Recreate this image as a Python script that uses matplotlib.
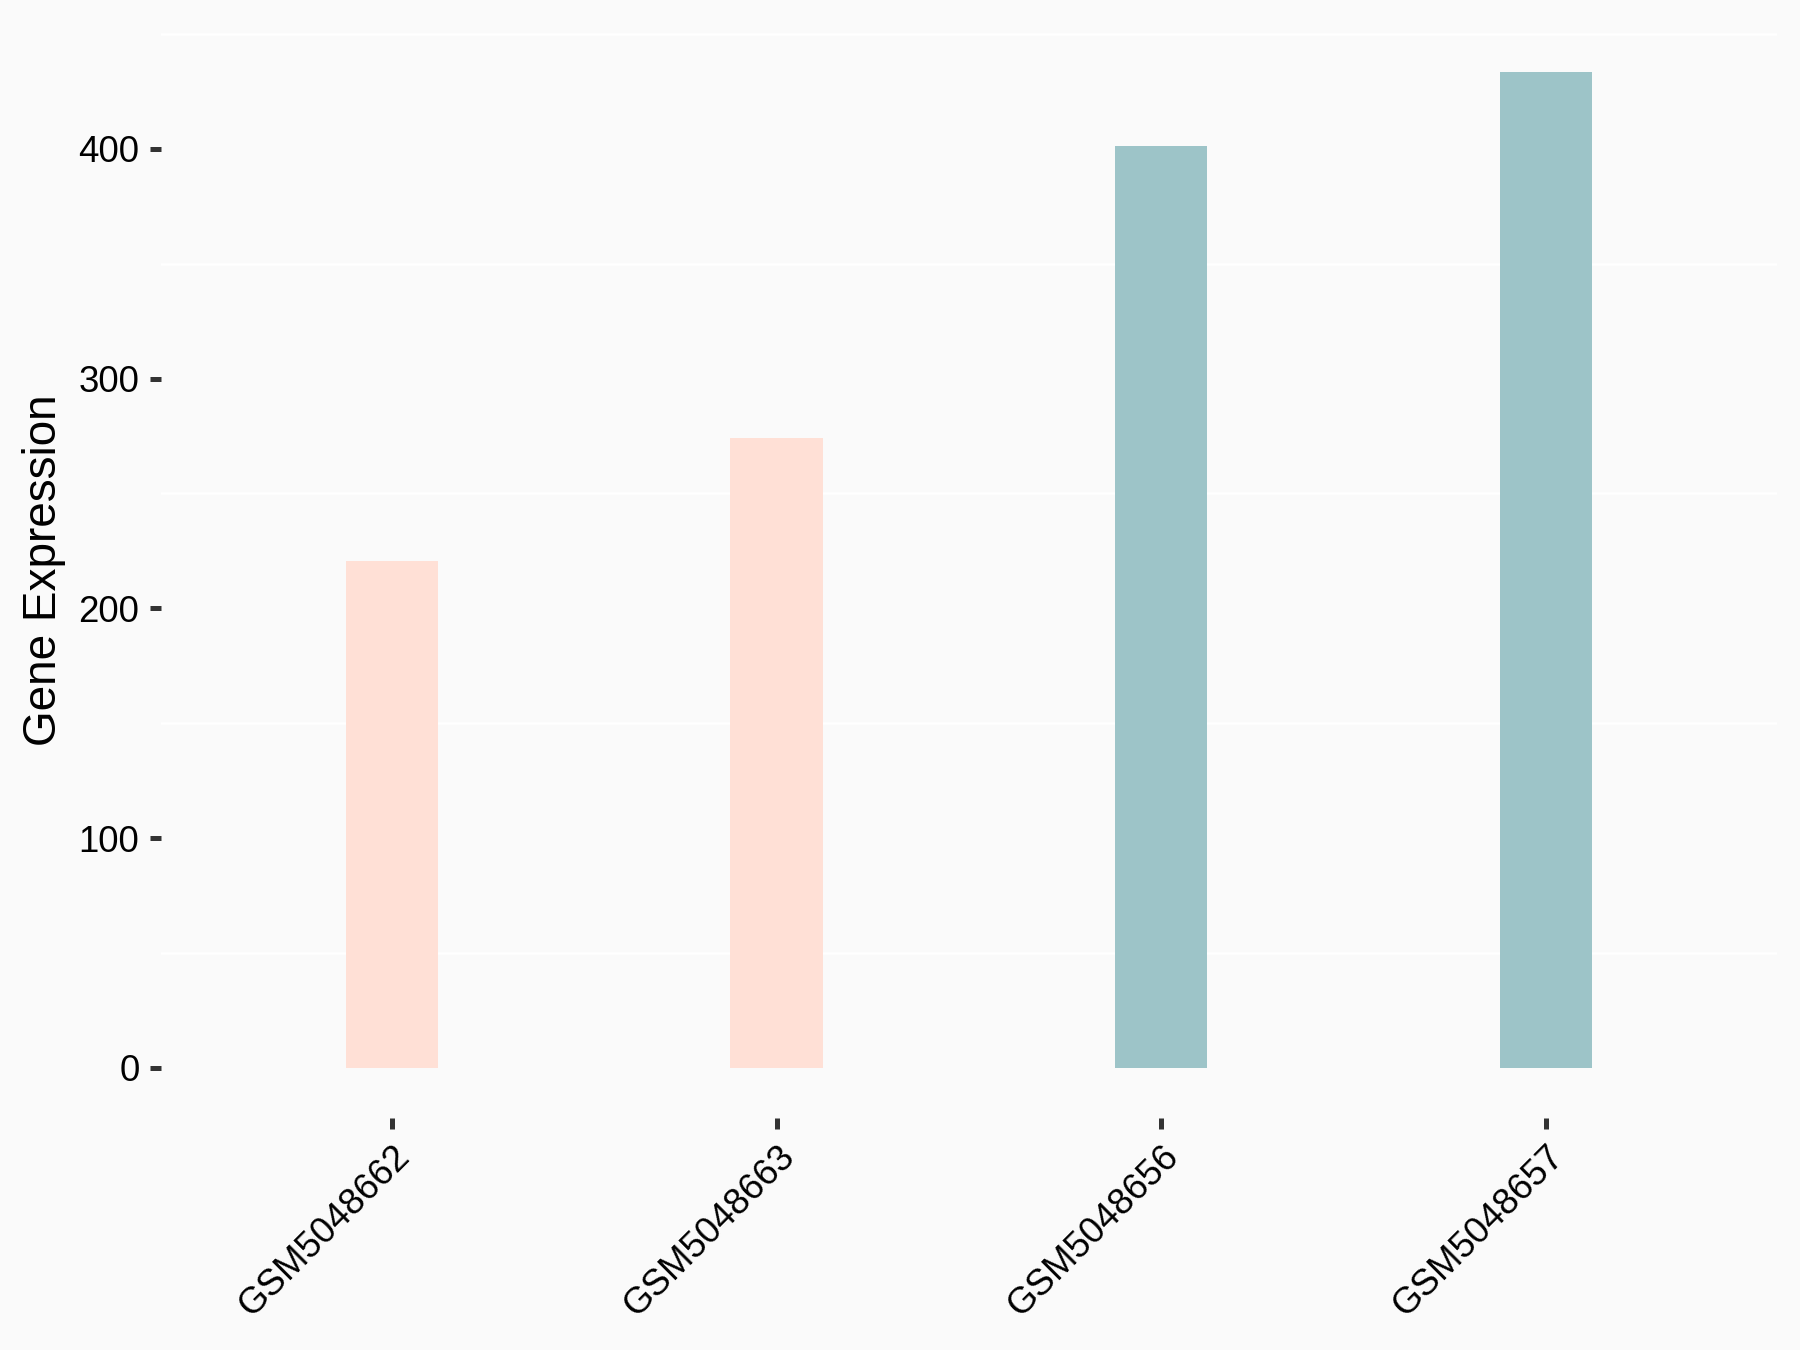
import numpy as np
import matplotlib
matplotlib.use("Agg")
import matplotlib.pyplot as plt

samples = ["GSM5048662", "GSM5048663", "GSM5048656", "GSM5048657"]
expression = [220.5, 274.0, 401.0, 433.6]
groups = ["low", "low", "high", "high"]
group_colors = {"low": "#FFE0D6", "high": "#9DC4C8"}

plt.rcParams["font.family"] = ["Liberation Sans", "DejaVu Sans"]
bg = "#FAFAFA"

fig = plt.figure(figsize=(6, 4.5), dpi=300, facecolor=bg)
ax = fig.add_axes([0.0894, 0.1721, 0.9872 - 0.0894, 0.9839 - 0.1721])
ax.set_facecolor(bg)

x = np.arange(1, len(samples) + 1)
ax.bar(x, expression, width=0.24, color=[group_colors[g] for g in groups], zorder=2)

ymax = max(expression)
ax.set_xlim(0.4, len(samples) + 0.6)
ax.set_ylim(-0.05 * ymax, ymax * 1.05)

ax.set_yticks([0, 100, 200, 300, 400])
for yg in [50, 150, 250, 350, 450]:
    ax.axhline(yg, color="white", lw=0.6, zorder=1)

ax.set_xticks(x)
ax.set_xticklabels(samples, rotation=45, ha="right", rotation_mode="anchor")
for s in ax.spines.values():
    s.set_visible(False)
ax.tick_params(axis="both", length=2.75, width=1.2, color="#333333",
               labelsize=8.8, labelcolor="black", pad=2.4)
ax.set_ylabel("Gene Expression", fontsize=11, color="black", labelpad=3)

fig.savefig("out.png", dpi=300, facecolor=bg)
